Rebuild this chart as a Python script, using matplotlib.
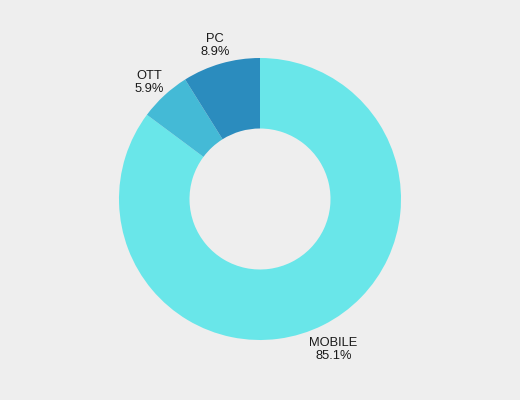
import matplotlib
matplotlib.use('Agg')
import matplotlib.pyplot as plt
import matplotlib.transforms as mtransforms

# data
labels = ['MOBILE', 'OTT', 'PC']
shares = [85.1, 5.9, 8.9]
colors = ['#69E6E9', '#44BAD6', '#2B8CBE']

plt.rcParams['font.family'] = ['Liberation Sans', 'DejaVu Sans']

fig = plt.figure(figsize=(5.2, 4), dpi=100, facecolor='#EEEEEE')
ax = fig.add_axes([0, 0, 1, 1])
ax.set_facecolor('#EEEEEE')

text_labels = [f'{l}\n{v}%' for l, v in zip(labels, shares)]
wedges, texts = ax.pie(shares, labels=text_labels, colors=colors,
                       startangle=90, counterclock=False,
                       labeldistance=1.16,
                       wedgeprops=dict(width=0.5, linewidth=0),
                       textprops=dict(fontsize=9.3, color='#1a1a1a'))
for t in texts:
    t.set_ha('center')
    t.set_va('center')
    t.set_linespacing(1.1)
    # labels sit a few pixels lower in the original
    t.set_transform(mtransforms.offset_copy(t.get_transform(), fig=fig,
                                            x=0, y=-4, units='dots'))

ax.set_aspect('equal')
ax.set_xlim(-520 / 2 / 141, 520 / 2 / 141)
ax.set_ylim(-201 / 141, 199 / 141)
ax.axis('off')

fig.savefig('out.png', dpi=100, facecolor='#EEEEEE')
